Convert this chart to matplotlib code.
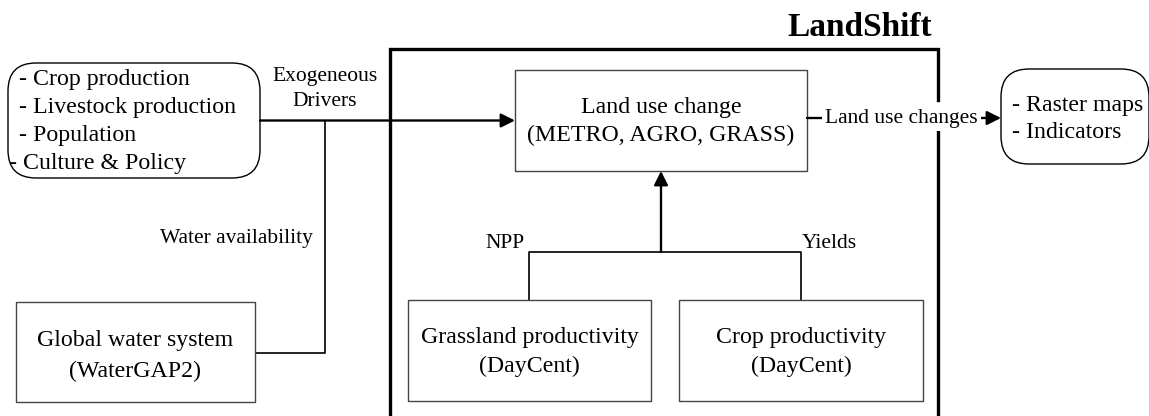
import matplotlib.pyplot as plt
from matplotlib.patches import FancyBboxPatch, Rectangle, FancyArrowPatch

plt.rcParams['font.family'] = ['Liberation Serif', 'DejaVu Serif']

# labels
driver_items = ["- Crop production", "- Livestock production", "- Population", "- Culture & Policy"]
output_items = ["- Raster maps", "- Indicators"]
model_title = "LandShift"
center_box = ["Land use change", "(METRO, AGRO, GRASS)"]
grass_box = ["Grassland productivity", "(DayCent)"]
crop_box = ["Crop productivity", "(DayCent)"]
water_box = ["Global water system", "(WaterGAP2)"]
edge_labels = ["Exogeneous\nDrivers", "Water availability", "NPP", "Yields", "Land use changes"]

W, H = 1149, 416
fig = plt.figure(figsize=(W / 100, H / 100), dpi=100)
ax = fig.add_axes([0, 0, 1, 1])
ax.set_xlim(0, W)
ax.set_ylim(H, 0)
ax.axis('off')

FS = 17.2
FS_EDGE = 15.5
LW = 1.2


def rect(x0, y0, x1, y1, ec='#444444', lw=1.0):
    ax.add_patch(Rectangle((x0, y0), x1 - x0, y1 - y0, fc='white', ec=ec, lw=lw, zorder=2))


def two_lines(cx, cy, lines, gap=28):
    ax.text(cx, cy - gap / 2, lines[0], ha='center', va='center', fontsize=FS, zorder=4)
    ax.text(cx, cy + gap / 2, lines[1], ha='center', va='center', fontsize=FS, zorder=4)


def arrow(p0, p1):
    ax.add_patch(FancyArrowPatch(p0, p1, arrowstyle='-|>,head_length=0.6,head_width=0.3',
                                 mutation_scale=14, lw=LW * 1.4, color='black',
                                 shrinkA=0, shrinkB=0, zorder=3))


# LandShift frame (open at the bottom, broken where the output label passes)
ax.plot([938, 938, 390, 390], [100, 49, 49, H + 5], color='black', lw=2.4, zorder=1,
        solid_joinstyle='miter')
ax.plot([938, 938], [132, H + 5], color='black', lw=2.4, zorder=1)
ax.text(860, 27, model_title, ha='center', va='center', fontsize=24, fontweight='bold')

# drivers box
ax.add_patch(FancyBboxPatch((8, 63), 252, 115, boxstyle='round,pad=0,rounding_size=28',
                            fc='white', ec='black', lw=1.0, zorder=2))
for i, t in enumerate(driver_items):
    ax.text(19 if i < 3 else 9, 79 + i * 28.3, t, ha='left', va='center', fontsize=FS, zorder=4)

# outputs box
ax.add_patch(FancyBboxPatch((1001, 69), 148, 95, boxstyle='round,pad=0,rounding_size=28',
                            fc='white', ec='black', lw=1.0, zorder=2))
for i, t in enumerate(output_items):
    ax.text(1012, 105 + i * 27, t, ha='left', va='center', fontsize=FS, zorder=4)

# main box and sub-models
rect(515, 70, 807, 171)
two_lines(661, 121, center_box)
rect(408, 300, 651, 401)
two_lines(529.5, 352, grass_box)
rect(679, 300, 923, 401)
two_lines(801, 352, crop_box)
rect(16, 302, 255, 402)
two_lines(135.5, 356, water_box, gap=31)

# drivers -> land use change
arrow((260, 120.5), (515, 120.5))
ax.text(325, 89, edge_labels[0], ha='center', va='center', fontsize=FS_EDGE, linespacing=1.5)

# water availability
ax.plot([255, 325, 325], [353, 353, 120.5], color='black', lw=LW, zorder=1)
ax.text(313, 238, edge_labels[1], ha='right', va='center', fontsize=FS_EDGE)

# NPP / yields tree
ax.plot([529, 529, 801, 801], [300, 252, 252, 300], color='black', lw=LW, zorder=1)
arrow((661, 252), (661, 171))
ax.text(505, 243, edge_labels[2], ha='center', va='center', fontsize=FS_EDGE)
ax.text(829, 243, edge_labels[3], ha='center', va='center', fontsize=FS_EDGE)

# land use changes -> outputs
arrow((807, 118), (1001, 118))
ax.text(901.5, 119, edge_labels[4], ha='center', va='center', fontsize=FS_EDGE, zorder=5,
        bbox=dict(fc='white', ec='none', pad=2))

fig.savefig('out.png', dpi=100)
